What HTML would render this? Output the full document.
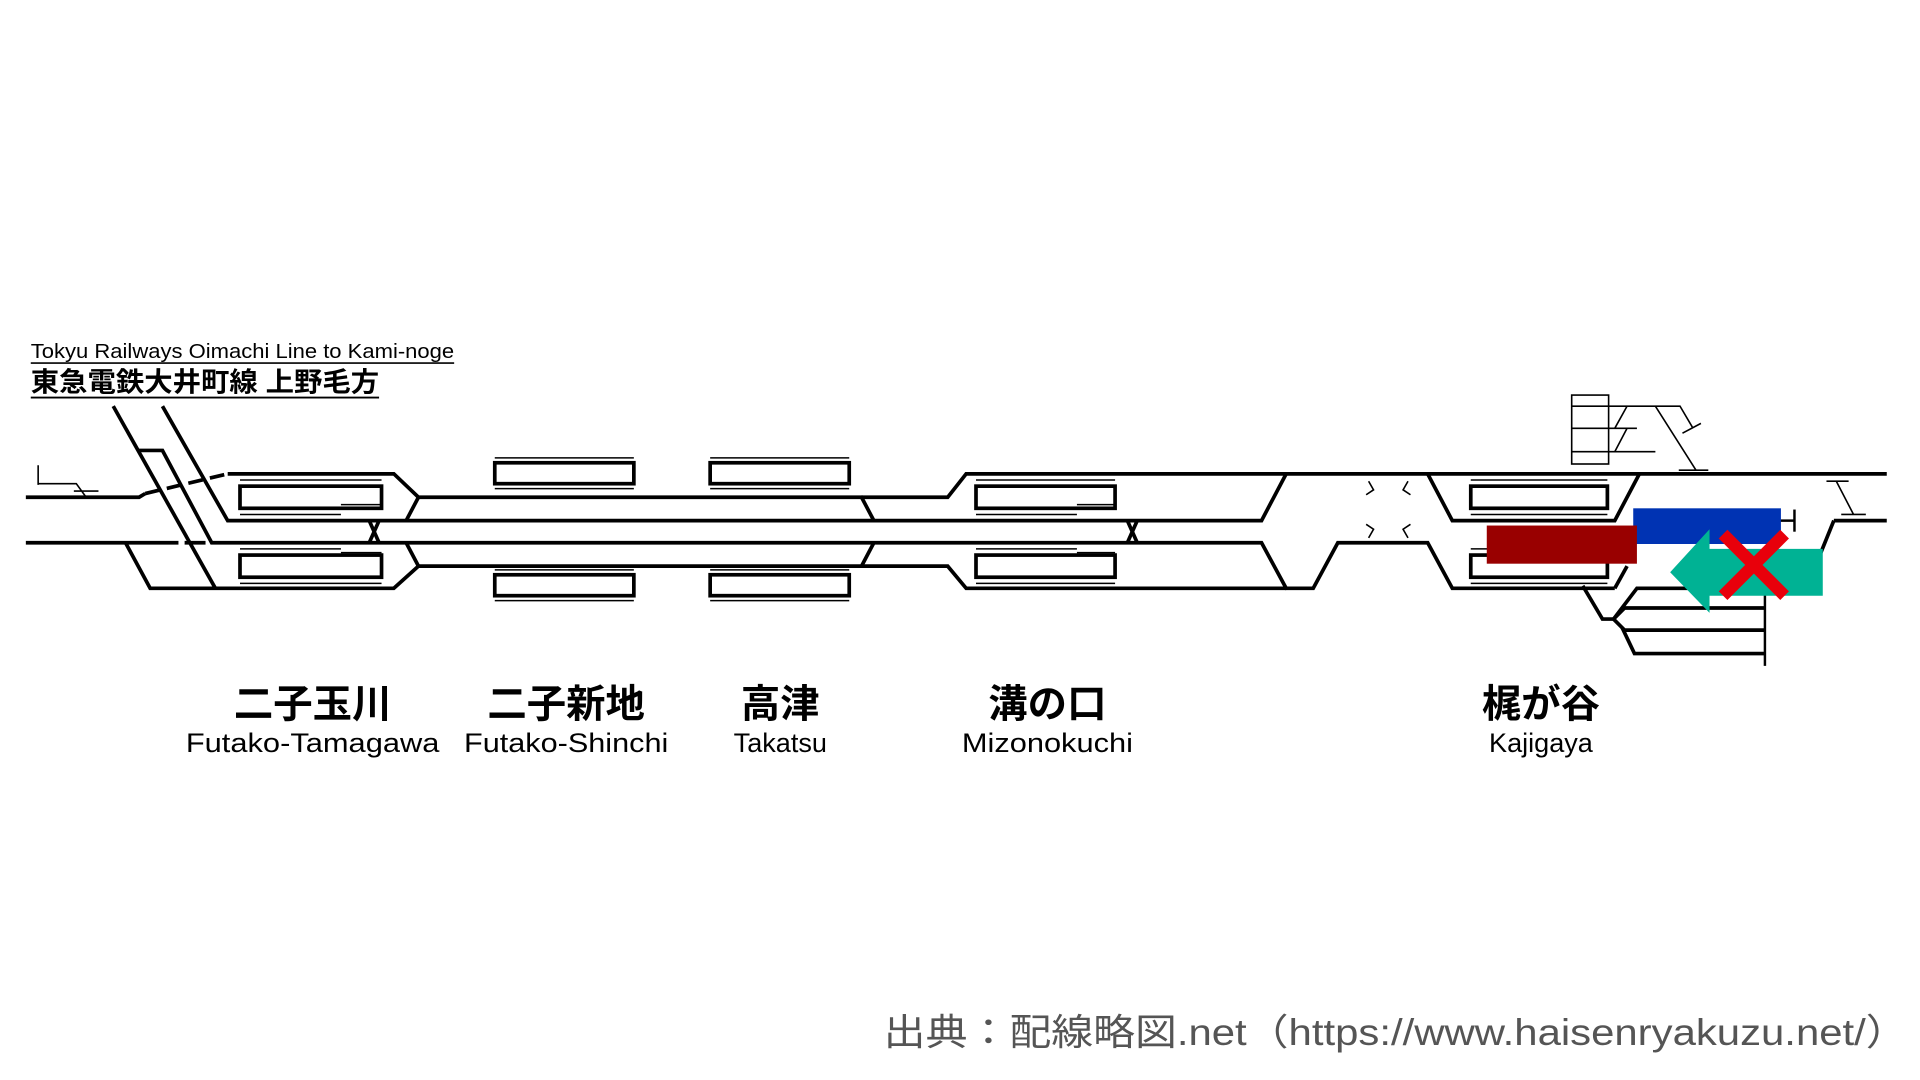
<!DOCTYPE html>
<html><head><meta charset="utf-8"><style>
html,body{margin:0;padding:0;background:#fff;}
svg{display:block;}
text{font-family:"Liberation Sans","Noto Sans CJK JP",sans-serif;}
</style></head><body>
<svg width="1920" height="1080" viewBox="0 0 1560 877.5" xmlns="http://www.w3.org/2000/svg">
<rect width="1560" height="877.5" fill="#fff"/>
<text x="25" y="291" font-size="16.5" fill="#000" textLength="344" lengthAdjust="spacingAndGlyphs">Tokyu Railways Oimachi Line to Kami-noge</text>
<line x1="25" y1="295" x2="369" y2="295" stroke="#000" stroke-width="1.3"/>
<text x="25" y="318" font-size="22" font-weight="bold" fill="#000" textLength="283" lengthAdjust="spacingAndGlyphs">東急電鉄大井町線 上野毛方</text>
<line x1="25" y1="323" x2="308" y2="323" stroke="#000" stroke-width="1.5"/>

<g fill="none" stroke="#000" stroke-width="3" stroke-linejoin="miter">
<polyline points="21,404 113,404 118,401"/>
<line x1="118" y1="401" x2="185" y2="385" stroke-dasharray="12,6"/>
<polyline points="185,385 320,385 340,404 700,404 710,423"/>
<polyline points="700,404 770,404 785,385 1533,385"/>
<line x1="21" y1="441" x2="145" y2="441"/>
<line x1="150" y1="441" x2="167" y2="441"/>
<line x1="92" y1="330" x2="175" y2="478"/>
<polyline points="132,330 185,423 1025,423 1045,385"/>
<polyline points="113,366 132,366 172,441 1025,441 1045,478 1067,478 1087,441 1160,441 1180,478 1312,478"/>
<polyline points="102,441 122,478 320,478 340,460 700,460 710,441"/>
<polyline points="700,460 770,460 785,478 1045,478"/>
<polyline points="340,404 330,423"/><polyline points="330,441 340,460"/>
<polyline points="300,423 308,441"/><polyline points="308,423 300,441"/>
<polyline points="916,423 924,441"/><polyline points="924,423 916,441"/>
<polyline points="1160,385 1180,423 1312,423 1332,385"/>
<polyline points="1312,478 1322,460"/>
<polyline points="1490,423 1533,423"/>
<polyline points="1490,423 1475,460"/>
<polyline points="1286,476 1302,503 1311,503 1330,478 1434,478"/>
<polyline points="1311,503 1320,494 1434,494"/>
<polyline points="1311,503 1320,512 1434,512"/>
<polyline points="1318,510 1328,531 1434,531"/>
<line x1="1434" y1="476" x2="1434" y2="541" stroke-width="2"/>
<line x1="1442" y1="423" x2="1458" y2="423" stroke-width="2"/>
<line x1="1458" y1="414" x2="1458" y2="432" stroke-width="2"/>
</g>

<g fill="none" stroke="#000">
<g stroke-width="3">
<rect x="195" y="395" width="115" height="18"/><rect x="195" y="451" width="115" height="18"/>
<rect x="402" y="376" width="113" height="17"/><rect x="402" y="467" width="113" height="17"/>
<rect x="577" y="376" width="113" height="17"/><rect x="577" y="467" width="113" height="17"/>
<rect x="793" y="395" width="113" height="18"/><rect x="793" y="451" width="113" height="18"/>
<rect x="1195" y="395" width="111" height="18"/><rect x="1195" y="451" width="111" height="18"/>
</g>
<g stroke-width="1.2">
<path d="M195,390H310M195,418H277M277,410H310M195,474H310M195,446H277M277,449H310"/>
<path d="M402,372H515M402,397H515M402,463H515M402,488H515"/>
<path d="M577,372H690M577,397H690M577,463H690M577,488H690"/>
<path d="M793,390H906M793,418H875M875,410H906M793,474H906M793,446H875M875,449H906"/>
<path d="M1195,390H1306M1195,418H1306M1195,474H1306M1195,446H1306"/>
</g>
</g>

<g fill="none" stroke="#000" stroke-width="1.3">
<path d="M31,378V394M31,393H62L70,404M60,399H80"/>
<rect x="1277" y="321" width="30" height="56"/>
<path d="M1277,330H1345M1277,348H1330M1277,367H1345M1307,330H1365L1375,347M1367,352L1382,344"/>
<path d="M1322,330L1312,348M1322,348L1312,367M1345,330L1378,382M1364,382H1388"/>
<path d="M1484,391H1502M1492,391L1506,418M1496,418H1516"/>
<path d="M1112,391L1116,398L1110,402M1144,391L1140,398L1146,402M1112,437L1116,430L1110,426M1144,437L1140,430L1146,426"/>
</g>

<rect x="1327" y="413" width="120" height="29" fill="#0033b3"/>
<rect x="1208" y="427" width="122" height="31" fill="#990000"/>
<polygon points="1357,465 1389,430 1389,446 1481,446 1481,484 1389,484 1389,498" fill="#00b294"/>
<g stroke="#e8000b" stroke-width="10"><line x1="1400" y1="434" x2="1450" y2="484"/><line x1="1450" y1="434" x2="1400" y2="484"/></g>

<g text-anchor="middle" fill="#000">
<g font-size="32" font-weight="bold">
<text x="254" y="583">二子玉川</text><text x="460" y="583">二子新地</text><text x="634" y="583">高津</text><text x="851" y="583">溝の口</text><text x="1252" y="583">梶が谷</text>
</g>
<g font-size="22">
<text x="254" y="611" textLength="206" lengthAdjust="spacingAndGlyphs">Futako-Tamagawa</text><text x="460" y="611" textLength="166" lengthAdjust="spacingAndGlyphs">Futako-Shinchi</text><text x="634" y="611">Takatsu</text><text x="851" y="611" textLength="139" lengthAdjust="spacingAndGlyphs">Mizonokuchi</text><text x="1252" y="611">Kajigaya</text>
</g>
</g>
<text x="718" y="849" font-size="30" fill="#555" textLength="832" lengthAdjust="spacingAndGlyphs">出典：配線略図.net（https://www.haisenryakuzu.net/）</text>
</svg>
</body></html>
